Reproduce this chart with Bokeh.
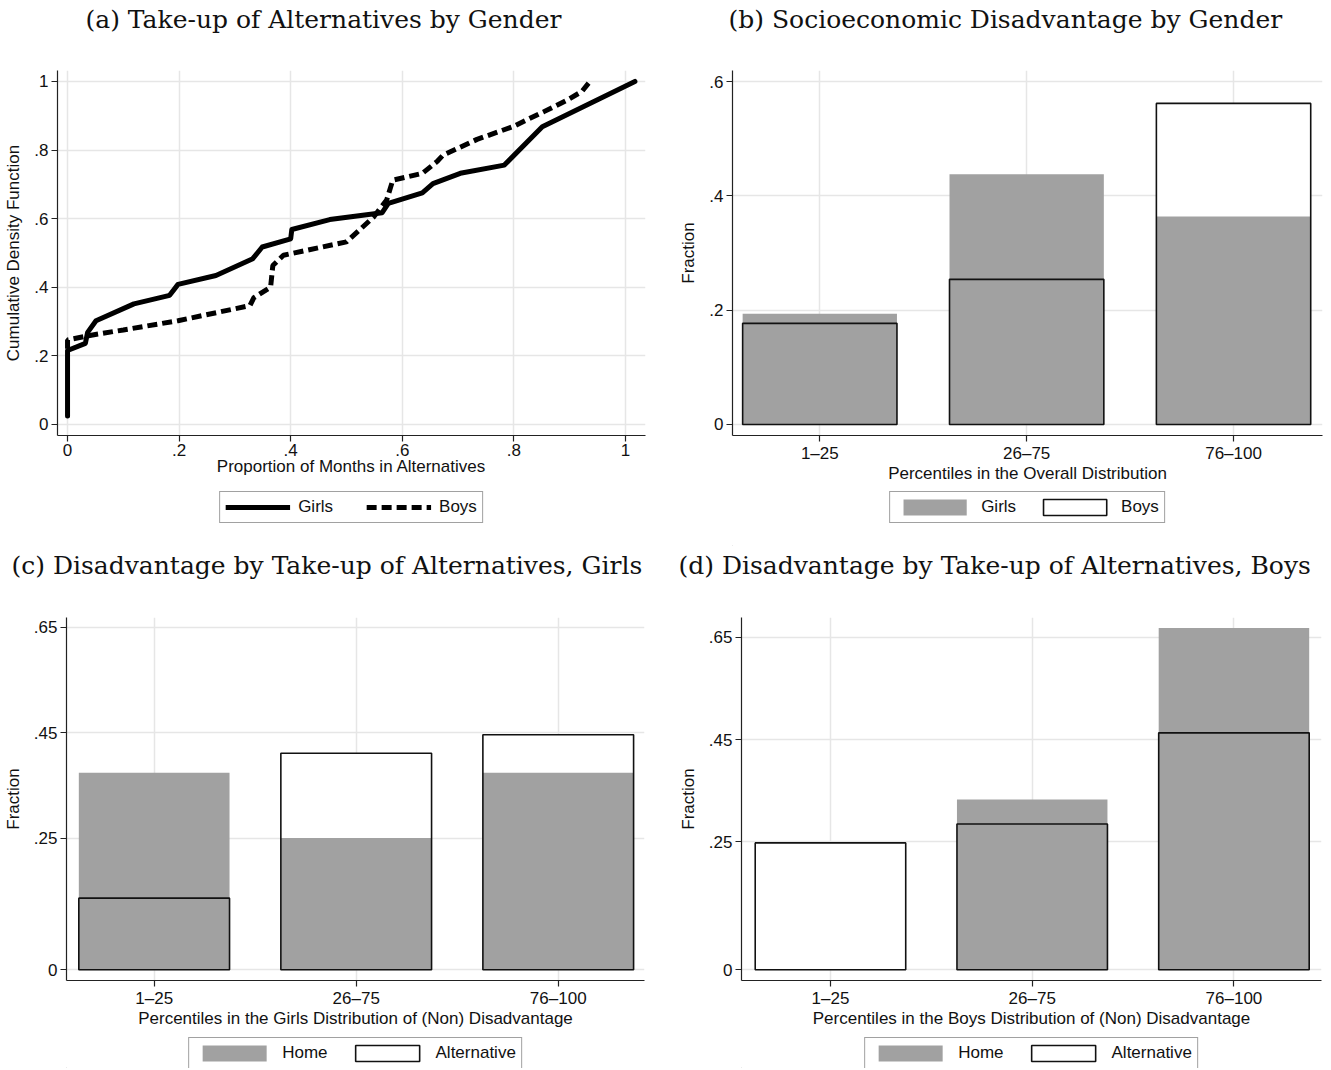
from bokeh.plotting import figure
from bokeh.models import (Range1d, Legend, LegendItem, FixedTicker,
                          CustomJSTickFormatter)
from bokeh.layouts import row, column
from bokeh.embed import file_html
from bokeh.resources import INLINE

# ---------------- data ----------------
# (a) cumulative distribution of proportion of months in alternatives
girls_x = [0.0, 0.0, 0.032, 0.036, 0.051, 0.119, 0.183, 0.198, 0.266, 0.332, 0.349,
           0.400, 0.402, 0.470, 0.564, 0.575, 0.636, 0.655, 0.704, 0.783, 0.851, 1.017]
girls_y = [0.024, 0.215, 0.236, 0.268, 0.302, 0.351, 0.376, 0.408, 0.434, 0.483, 0.517,
           0.541, 0.568, 0.597, 0.617, 0.644, 0.675, 0.702, 0.732, 0.756, 0.868, 1.0]
boys_x = [0.0, 0.0, 0.040, 0.100, 0.198, 0.327, 0.334, 0.364, 0.368, 0.387, 0.500, 0.549,
          0.572, 0.583, 0.636, 0.662, 0.673, 0.734, 0.798, 0.854, 0.896, 0.922, 0.934]
boys_y = [0.220, 0.246, 0.259, 0.275, 0.302, 0.346, 0.369, 0.400, 0.463, 0.493, 0.532, 0.605,
          0.654, 0.712, 0.732, 0.766, 0.785, 0.831, 0.868, 0.912, 0.946, 0.971, 0.995]

a_ticks = [0, 0.2, 0.4, 0.6, 0.8, 1]
a_tick_labels = ["0", ".2", ".4", ".6", ".8", "1"]

# bar panels
cat_x = [1, 2, 3]
cat_labels = ["1\u201325", "26\u201375", "76\u2013100"]

b_girls = [0.194, 0.438, 0.364]
b_boys = [0.177, 0.254, 0.562]
b_ticks = [0, 0.2, 0.4, 0.6]
b_tick_labels = ["0", ".2", ".4", ".6"]

c_home = [0.374, 0.250, 0.374]
c_alt = [0.136, 0.411, 0.446]
d_home = [0.0, 0.333, 0.668]
d_alt = [0.248, 0.285, 0.463]
cd_ticks = [0, 0.25, 0.45, 0.65]
cd_tick_labels = ["0", ".25", ".45", ".65"]

titles = ["(a) Take-up of Alternatives by Gender",
          "(b) Socioeconomic Disadvantage by Gender",
          "(c) Disadvantage by Take-up of Alternatives, Girls",
          "(d) Disadvantage by Take-up of Alternatives, Boys"]

# ---------------- style ----------------
SANS = "Liberation Sans"
SERIF = "DejaVu Serif"
GRAY = "#a1a1a1"
AXC = "#222222"
GRIDC = "#e6e6e6"
FS = "17px"
W = 0.746


def fmt(tv, tl):
    return CustomJSTickFormatter(
        args=dict(tvals=tv, tlabs=tl),
        code="""
        for (let i = 0; i < tvals.length; i++) {
            if (Math.abs(tvals[i] - tick) < 1e-9) { return tlabs[i]; }
        }
        return "";
        """)


def blank(width, height, mleft=0, mright=0, mtop=0):
    q = figure(width=width, height=height, x_range=Range1d(0, 1), y_range=Range1d(0, 1),
               output_backend="svg", toolbar_location=None,
               x_axis_location=None, y_axis_location=None,
               min_border_left=mleft, min_border_right=mright,
               min_border_top=mtop, min_border_bottom=0)
    q.outline_line_color = None
    q.grid.visible = False
    q.background_fill_color = "white"
    q.border_fill_color = "white"
    return q


def title_strip(width, text, mleft, mright, offset):
    q = blank(width, 36, mleft, mright, 33)
    q.title.text = text
    q.title.align = "left"
    q.title.offset = offset
    q.title.standoff = 0
    q.title.text_font = SERIF
    q.title.text_font_size = "25px"
    q.title.text_font_style = "normal"
    q.title.text_color = "#111111"
    return q


def make_fig(width, height, xr, yr, mb):
    p = figure(width=width, height=height, x_range=Range1d(*xr), y_range=Range1d(*yr),
               output_backend="svg", toolbar_location=None,
               min_border_left=mb[0], min_border_right=mb[1],
               min_border_top=mb[2], min_border_bottom=mb[3])
    p.outline_line_color = None
    p.background_fill_color = "white"
    p.border_fill_color = "white"
    p.grid.grid_line_color = GRIDC
    p.grid.grid_line_width = 1.5
    return p


def style_axes(p, xticks, xlabels, yticks, ylabels, xlabel, ylabel, ystand):
    for ax in (p.xaxis[0], p.yaxis[0]):
        ax.axis_line_color = AXC
        ax.axis_line_width = 1.2
        ax.major_tick_line_color = AXC
        ax.major_tick_line_width = 1.2
        ax.major_tick_out = 6
        ax.major_tick_in = 0
        ax.minor_tick_line_color = None
        ax.major_label_text_font = SANS
        ax.major_label_text_font_size = FS
        ax.major_label_text_color = "#111111"
        ax.axis_label_text_font = SANS
        ax.axis_label_text_font_size = FS
        ax.axis_label_text_font_style = "normal"
        ax.axis_label_text_color = "#111111"
    p.xaxis.ticker = FixedTicker(ticks=xticks)
    p.xaxis.formatter = fmt(xticks, xlabels)
    p.yaxis.ticker = FixedTicker(ticks=yticks)
    p.yaxis.formatter = fmt(yticks, ylabels)
    p.xaxis.axis_label = xlabel
    p.yaxis.axis_label = ylabel
    p.xaxis.major_label_standoff = 2
    p.yaxis.major_label_standoff = 3
    p.xaxis.axis_label_standoff = -2
    p.yaxis.axis_label_standoff = ystand
    p.xgrid.ticker = FixedTicker(ticks=xticks)
    p.ygrid.ticker = FixedTicker(ticks=yticks)


def legend_strip(width, height, mleft, mright, kind, names, gw, gh, stand, spacing):
    """A strip under each panel that holds only that panel's legend."""
    q = blank(width, height, mleft, mright)
    # legend-only renderers: their single point lies outside the visible range
    if kind == "line":
        r1 = q.line(x=[-9, -8], y=[-9, -9], line_color="black", line_width=5,
                    line_cap="butt")
        r2 = q.line(x=[-9, -8], y=[-9, -9], line_color="black", line_width=5,
                    line_dash="10 5", line_cap="butt")
    else:
        r1 = q.vbar(x=[-9], top=[-8], bottom=-9, width=W, fill_color=GRAY, line_color=None)
        r2 = q.vbar(x=[-9], top=[-8], bottom=-9, width=W, fill_color="white",
                    line_color="#111111", line_width=1.6)
    lg = Legend(items=[LegendItem(label=names[0], renderers=[r1]),
                       LegendItem(label=names[1], renderers=[r2])],
                orientation="horizontal", location="top_center")
    lg.border_line_color = "#444444"
    lg.border_line_width = 1
    lg.padding = 5
    lg.spacing = spacing
    lg.label_standoff = stand
    lg.glyph_width = gw
    lg.glyph_height = gh
    lg.margin = 0
    lg.label_text_font = SANS
    lg.label_text_font_size = FS
    lg.label_text_color = "#111111"
    lg.background_fill_color = "white"
    lg.background_fill_alpha = 1
    q.add_layout(lg)
    return q


def bars(p, filled, outlined):
    p.vbar(x=cat_x, top=outlined, bottom=0, width=W, fill_color="white", line_color=None)
    p.vbar(x=cat_x, top=filled, bottom=0, width=W, fill_color=GRAY, line_color=None)
    p.vbar(x=cat_x, top=outlined, bottom=0, width=W, fill_color=None,
           line_color="#111111", line_width=1.6)


# ---------------- panel (a) ----------------
ta = title_strip(665, titles[0], 57, 20, 28)
pa = make_fig(665, 455, (-0.018, 1.036), (-0.033, 1.032), (57, 20, 34, 56))
pa.line(girls_x, girls_y, line_color="black", line_width=5,
        line_join="round", line_cap="round")
pa.line(boys_x, boys_y, line_color="black", line_width=5,
        line_dash="10 5", line_cap="butt")
style_axes(pa, a_ticks, a_tick_labels, a_ticks, a_tick_labels,
           "Proportion of Months in Alternatives", "Cumulative Density Function", 8)
la = legend_strip(665, 55, 57, 20, "line", ["Girls", "Boys"], 65, 16, 8, 33)

# ---------------- panel (b) ----------------
tb = title_strip(664, titles[1], 67, 7, -4)
pb = make_fig(664, 455, (0.578, 3.43), (-0.0193, 0.6196), (67, 7, 34, 56))
bars(pb, b_girls, b_boys)
style_axes(pb, cat_x, cat_labels, b_ticks, b_tick_labels,
           "Percentiles in the Overall Distribution", "Fraction", 8)
lb = legend_strip(664, 55, 67, 7, "bar", ["Girls", "Boys"], 79, 20, 7, 19)

# ---------------- panel (c) ----------------
tc = title_strip(665, titles[2], 66, 21, -55)
pc = make_fig(665, 455, (0.566, 3.427), (-0.0203, 0.6685), (66, 21, 35, 57))
bars(pc, c_home, c_alt)
style_axes(pc, cat_x, cat_labels, cd_ticks, cd_tick_labels,
           "Percentiles in the Girls Distribution of (Non) Disadvantage", "Fraction", 8)
lc = legend_strip(665, 31, 66, 21, "bar", ["Home", "Alternative"], 80, 20, 8, 20)

# ---------------- panel (d) ----------------
td = title_strip(664, titles[3], 76, 8, -63)
pd_ = make_fig(664, 455, (0.559, 3.434), (-0.0209, 0.6884), (76, 8, 35, 57))
bars(pd_, d_home, d_alt)
style_axes(pd_, cat_x, cat_labels, cd_ticks, cd_tick_labels,
           "Percentiles in the Boys Distribution of (Non) Disadvantage", "Fraction", 8)
ld = legend_strip(664, 31, 76, 8, "bar", ["Home", "Alternative"], 80, 20, 8, 20)

page = column(row(column(ta, pa, la), column(tb, pb, lb)),
              row(column(tc, pc, lc), column(td, pd_, ld)))
open("out.html", "w").write(file_html(page, INLINE))
